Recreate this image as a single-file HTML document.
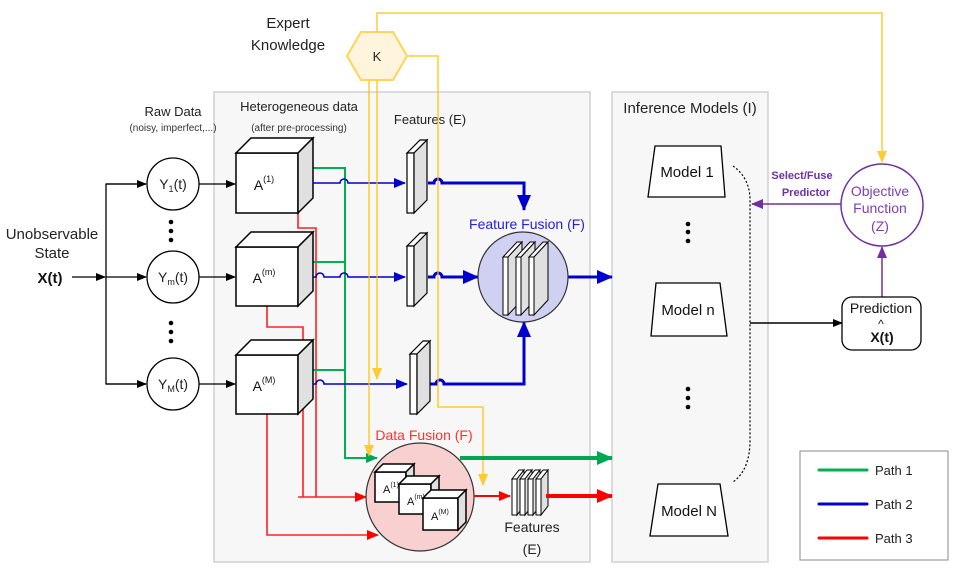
<!DOCTYPE html>
<html><head><meta charset="utf-8"><style>
body{margin:0;background:#fff;}
svg{display:block;font-family:"Liberation Sans",sans-serif;}
</style></head><body>
<svg width="957" height="569" viewBox="0 0 957 569" xmlns="http://www.w3.org/2000/svg">
<defs>
<marker id="ab" markerWidth="10" markerHeight="10" refX="9" refY="5" orient="auto" markerUnits="userSpaceOnUse"><path d="M0,1 L10,5 L0,9 Z" fill="#000"/></marker>
<marker id="abl" markerWidth="12" markerHeight="12" refX="11" refY="6" orient="auto" markerUnits="userSpaceOnUse"><path d="M0,1 L12,6 L0,11 Z" fill="#0000cc"/></marker>
<marker id="abl2" markerWidth="16" markerHeight="16" refX="15" refY="8" orient="auto" markerUnits="userSpaceOnUse"><path d="M0,1 L16,8 L0,15 Z" fill="#0000cc"/></marker>
<marker id="ag" markerWidth="16" markerHeight="16" refX="15" refY="8" orient="auto" markerUnits="userSpaceOnUse"><path d="M0,1 L16,8 L0,15 Z" fill="#00a650"/></marker>
<marker id="ag2" markerWidth="12" markerHeight="12" refX="11" refY="6" orient="auto" markerUnits="userSpaceOnUse"><path d="M0,1 L12,6 L0,11 Z" fill="#00a650"/></marker>
<marker id="ar" markerWidth="12" markerHeight="12" refX="11" refY="6" orient="auto" markerUnits="userSpaceOnUse"><path d="M0,1 L12,6 L0,11 Z" fill="#ff0000"/></marker>
<marker id="ar2" markerWidth="16" markerHeight="16" refX="15" refY="8" orient="auto" markerUnits="userSpaceOnUse"><path d="M0,1 L16,8 L0,15 Z" fill="#ff0000"/></marker>
<marker id="ay" markerWidth="12" markerHeight="12" refX="11" refY="6" orient="auto" markerUnits="userSpaceOnUse"><path d="M0,1 L12,6 L0,11 Z" fill="#ffc000"/></marker>
<marker id="ap" markerWidth="12" markerHeight="12" refX="11" refY="6" orient="auto" markerUnits="userSpaceOnUse"><path d="M0,1 L12,6 L0,11 Z" fill="#7030a0"/></marker>
</defs>

<rect x="214" y="92" width="376" height="470" fill="#f7f7f7" stroke="#d0d0d0" stroke-width="1.5"/>
<rect x="612" y="92" width="156" height="470" fill="#f7f7f7" stroke="#d0d0d0" stroke-width="1.5"/>

<text x="288" y="28" font-size="15" fill="#222" text-anchor="middle">Expert</text>
<text x="288" y="50" font-size="15" fill="#222" text-anchor="middle">Knowledge</text>
<text x="173" y="116" font-size="13" fill="#222" text-anchor="middle">Raw Data</text>
<text x="173" y="131" font-size="10" fill="#333" text-anchor="middle">(noisy, imperfect,...)</text>
<text x="299" y="111" font-size="13" fill="#222" text-anchor="middle">Heterogeneous data</text>
<text x="299" y="131" font-size="10" fill="#333" text-anchor="middle">(after pre-processing)</text>
<text x="430" y="124" font-size="13" fill="#222" text-anchor="middle">Features (E)</text>
<text x="690" y="113" font-size="15" fill="#222" text-anchor="middle">Inference Models (I)</text>

<text x="52" y="239" font-size="15" fill="#222" text-anchor="middle">Unobservable</text>
<text x="52" y="258" font-size="15" fill="#222" text-anchor="middle">State</text>
<text x="50" y="283" font-size="15" font-weight="bold" fill="#111" text-anchor="middle">X(t)</text>
<line x1="72" y1="277" x2="105" y2="277" stroke="#000" stroke-width="1.3" marker-end="url(#ab)"/>
<polyline points="146,184 106,184 106,384 146,384" fill="none" stroke="#000" stroke-width="1.3"/>
<line x1="106" y1="184" x2="146" y2="184" stroke="#000" stroke-width="1.3" marker-end="url(#ab)"/>
<line x1="106" y1="277" x2="146" y2="277" stroke="#000" stroke-width="1.3" marker-end="url(#ab)"/>
<line x1="106" y1="384" x2="146" y2="384" stroke="#000" stroke-width="1.3" marker-end="url(#ab)"/>
<g fill="#fff" stroke="#000" stroke-width="1.3">
<circle cx="173" cy="184" r="26"/><circle cx="173" cy="277" r="26"/><circle cx="173" cy="384" r="26"/>
</g>
<g font-size="14" fill="#222" text-anchor="middle">
<text x="173" y="189">Y<tspan font-size="9" dy="3">1</tspan><tspan dy="-3">(t)</tspan></text>
<text x="173" y="282">Y<tspan font-size="9" dy="3">m</tspan><tspan dy="-3">(t)</tspan></text>
<text x="173" y="389">Y<tspan font-size="9" dy="3">M</tspan><tspan dy="-3">(t)</tspan></text>
</g>
<g fill="#000"><circle cx="171" cy="222" r="2.3"/><circle cx="171" cy="231" r="2.3"/><circle cx="171" cy="240" r="2.3"/>
<circle cx="171" cy="323" r="2.3"/><circle cx="171" cy="332" r="2.3"/><circle cx="171" cy="341" r="2.3"/></g>
<line x1="199" y1="184" x2="235" y2="184" stroke="#000" stroke-width="1.3" marker-end="url(#ab)"/>
<line x1="199" y1="277" x2="235" y2="277" stroke="#000" stroke-width="1.3" marker-end="url(#ab)"/>
<line x1="199" y1="384" x2="235" y2="384" stroke="#000" stroke-width="1.3" marker-end="url(#ab)"/>

<g fill="none" stroke="#ff2020" stroke-width="1.6">
<polyline points="298,183 298,228 316,228 316,497"/>
<polyline points="267,306 267,327 303,327 303,497"/>
<line x1="298" y1="497" x2="366" y2="497" marker-end="url(#ar)"/>
<polyline points="267,414 267,535 378,535" marker-end="url(#ar)"/>
</g>
<g fill="none" stroke="#00b050" stroke-width="2">
<polyline points="313,168 345,168 345,458 377,458" marker-end="url(#ag2)"/>
<line x1="313" y1="262" x2="345" y2="262"/>
<line x1="313" y1="370" x2="345" y2="370"/>
</g>

<g stroke="#000" stroke-width="1.5">
<g><rect x="236" y="153" width="62" height="60" fill="#fff"/><polygon points="236,153 251,138 313,138 298,153" fill="#fff"/><polygon points="298,153 313,138 313,198 298,213" fill="#e0e0e0"/></g>
<g><rect x="236" y="247" width="62" height="59" fill="#fff"/><polygon points="236,247 251,232 313,232 298,247" fill="#fff"/><polygon points="298,247 313,232 313,291 298,306" fill="#e0e0e0"/></g>
<g><rect x="236" y="355" width="62" height="59" fill="#fff"/><polygon points="236,355 251,340 313,340 298,355" fill="#fff"/><polygon points="298,355 313,340 313,399 298,414" fill="#e0e0e0"/></g>
</g>
<g font-size="14" fill="#111" text-anchor="middle">
<text x="264" y="190">A<tspan font-size="9" dy="-8">(1)</tspan></text>
<text x="264" y="283">A<tspan font-size="9" dy="-8">(m)</tspan></text>
<text x="264" y="391">A<tspan font-size="9" dy="-8">(M)</tspan></text>
</g>

<g fill="none" stroke="#0000cc" stroke-width="1.6">
<path d="M313,183 H340 a4,4 0 0 1 8,0 H405" marker-end="url(#abl)"/>
<path d="M313,277 H316 a4,4 0 0 1 8,0 H340 a4,4 0 0 1 8,0 H405" marker-end="url(#abl)"/>
<path d="M313,384 H316 a4,4 0 0 1 8,0 H407" marker-end="url(#abl)"/>
</g>
<g fill="none" stroke="#0000cc" stroke-width="3">
<path d="M428,183 H434 a4,4 0 0 1 8,0 H524 V210" marker-end="url(#abl2)"/>
<path d="M428,277 H434 a4,4 0 0 1 8,0 H478" marker-end="url(#abl2)"/>
<path d="M430,384 H436 a4,4 0 0 1 8,0 H524 V322" marker-end="url(#abl2)"/>
<line x1="568" y1="277" x2="612" y2="277" marker-end="url(#abl2)"/>
</g>

<g stroke="#000" stroke-width="1.2">
<g><polygon points="407,153 420,140 427,140 414,153" fill="#fff"/><rect x="407" y="153" width="7" height="60" fill="#fff"/><polygon points="414,153 427,140 427,200 414,213" fill="#e0e0e0"/></g>
<g><polygon points="407,246 420,233 427,233 414,246" fill="#fff"/><rect x="407" y="246" width="7" height="60" fill="#fff"/><polygon points="414,246 427,233 427,293 414,306" fill="#e0e0e0"/></g>
<g><polygon points="410,354 423,341 430,341 417,354" fill="#fff"/><rect x="410" y="354" width="7" height="60" fill="#fff"/><polygon points="417,354 430,341 430,401 417,414" fill="#e0e0e0"/></g>
</g>

<text x="527" y="229" font-size="14" fill="#2222dd" text-anchor="middle">Feature Fusion (F)</text>
<circle cx="523" cy="277" r="45" fill="#d0d0f2" stroke="#333" stroke-width="1.2"/>
<g stroke="#000" stroke-width="1">
<g><polygon points="503,257 517,242 522,242 508,257" fill="#fff"/><rect x="503" y="257" width="5" height="58" fill="#fff"/><polygon points="508,257 522,242 522,300 508,315" fill="#e0e0e0"/></g>
<g><polygon points="516,257 530,242 535,242 521,257" fill="#fff"/><rect x="516" y="257" width="5" height="58" fill="#fff"/><polygon points="521,257 535,242 535,300 521,315" fill="#e0e0e0"/></g>
<g><polygon points="529,257 543,242 548,242 534,257" fill="#fff"/><rect x="529" y="257" width="5" height="58" fill="#fff"/><polygon points="534,257 548,242 548,300 534,315" fill="#e0e0e0"/></g>
</g>

<g fill="none" stroke="#ffc000" stroke-width="1.5" opacity="0.8">
<polyline points="377,31 377,13 882,13 882,162" marker-end="url(#ay)"/>
<polyline points="369,80 369,456" marker-end="url(#ay)"/>
<polyline points="377,80 377,379" marker-end="url(#ay)"/>
<polyline points="407,56 438,56 438,407 483,407 483,485" marker-end="url(#ay)"/>
</g>
<polygon points="347,56 361,32 393,32 407,56 393,80 361,80" fill="#fff5dc" stroke="#ffd45a" stroke-width="2"/>
<text x="377" y="61" font-size="13" fill="#222" text-anchor="middle">K</text>

<text x="424" y="440" font-size="14" fill="#ff3030" text-anchor="middle">Data Fusion (F)</text>
<line x1="460" y1="458" x2="612" y2="458" stroke="#00a650" stroke-width="4" marker-end="url(#ag)"/>
<circle cx="420" cy="497" r="54" fill="#f8d0d0" stroke="#333" stroke-width="1.2"/>
<line x1="474" y1="496" x2="510" y2="496" stroke="#ff0000" stroke-width="2" marker-end="url(#ar)"/>
<g stroke="#000" stroke-width="1.5">
<g><rect x="375" y="472" width="31" height="30" fill="#fff"/><polygon points="375,472 383,464 414,464 406,472" fill="#fff"/><polygon points="406,472 414,464 414,494 406,502" fill="#e0e0e0"/></g>
<g><rect x="399" y="484" width="32" height="30" fill="#fff"/><polygon points="399,484 407,476 439,476 431,484" fill="#fff"/><polygon points="431,484 439,476 439,506 431,514" fill="#e0e0e0"/></g>
<g><rect x="423" y="498" width="35" height="32" fill="#fff"/><polygon points="423,498 431,490 466,490 458,498" fill="#fff"/><polygon points="458,498 466,490 466,522 458,530" fill="#e0e0e0"/></g>
</g>
<g font-size="11" fill="#111">
<text x="383" y="493">A<tspan font-size="7" dy="-6">(1)</tspan></text>
<text x="407" y="505">A<tspan font-size="7" dy="-6">(m)</tspan></text>
<text x="431" y="520">A<tspan font-size="7" dy="-6">(M)</tspan></text>
</g>
<g stroke="#000" stroke-width="1">
<g><polygon points="512,479 519,470 524,470 517,479" fill="#fff"/><rect x="512" y="479" width="5" height="36" fill="#fff"/><polygon points="517,479 524,470 524,506 517,515" fill="#e0e0e0"/></g>
<g><polygon points="520,479 527,470 532,470 525,479" fill="#fff"/><rect x="520" y="479" width="5" height="36" fill="#fff"/><polygon points="525,479 532,470 532,506 525,515" fill="#e0e0e0"/></g>
<g><polygon points="528,479 535,470 540,470 533,479" fill="#fff"/><rect x="528" y="479" width="5" height="36" fill="#fff"/><polygon points="533,479 540,470 540,506 533,515" fill="#e0e0e0"/></g>
<g><polygon points="536,479 543,470 548,470 541,479" fill="#fff"/><rect x="536" y="479" width="5" height="36" fill="#fff"/><polygon points="541,479 548,470 548,506 541,515" fill="#e0e0e0"/></g>
</g>
<line x1="546" y1="496" x2="612" y2="496" stroke="#ff0000" stroke-width="4" marker-end="url(#ar2)"/>
<text x="532" y="532" font-size="14" fill="#222" text-anchor="middle">Features</text>
<text x="532" y="554" font-size="14" fill="#222" text-anchor="middle">(E)</text>

<g fill="#fff" stroke="#000" stroke-width="1.3">
<polygon points="655,146 721,146 725,197 648,197"/>
<polygon points="656,283 720,283 727,336 651,336"/>
<polygon points="658,484 720,484 728,536 650,536"/>
</g>
<g font-size="15" fill="#111" text-anchor="middle">
<text x="687" y="177">Model 1</text>
<text x="688" y="315">Model n</text>
<text x="689" y="516">Model N</text>
</g>
<g fill="#000"><circle cx="688" cy="224" r="2.3"/><circle cx="688" cy="232" r="2.3"/><circle cx="688" cy="241" r="2.3"/>
<circle cx="688" cy="389" r="2.3"/><circle cx="688" cy="398" r="2.3"/><circle cx="688" cy="407" r="2.3"/></g>
<path d="M733,166 Q750,178 750,200 V440 Q750,470 733,482" fill="none" stroke="#000" stroke-width="1.2" stroke-dasharray="2,2"/>
<line x1="750" y1="323" x2="842" y2="323" stroke="#000" stroke-width="1.5" marker-end="url(#ab)"/>

<line x1="841" y1="204" x2="752" y2="204" stroke="#7030a0" stroke-width="1.5" marker-end="url(#ap)"/>
<text x="802" y="179" font-size="11" font-weight="bold" fill="#7030a0" text-anchor="middle">Select/Fuse</text>
<text x="806" y="196" font-size="11" font-weight="bold" fill="#7030a0" text-anchor="middle">Predictor</text>
<circle cx="882" cy="205" r="41" fill="#fff" stroke="#7030a0" stroke-width="1.5"/>
<g font-size="14" fill="#8040b0" text-anchor="middle">
<text x="880" y="196">Objective</text><text x="880" y="213">Function</text><text x="880" y="231">(Z)</text>
</g>
<line x1="882" y1="297" x2="882" y2="247" stroke="#7030a0" stroke-width="1.5" marker-end="url(#ap)"/>
<rect x="842" y="297" width="79" height="53" rx="10" fill="#fff" stroke="#000" stroke-width="1.3"/>
<text x="881" y="313" font-size="14" fill="#111" text-anchor="middle">Prediction</text>
<text x="881" y="328" font-size="12" fill="#111" text-anchor="middle">^</text>
<text x="882" y="342" font-size="14" font-weight="bold" fill="#111" text-anchor="middle">X(t)</text>

<rect x="800" y="451" width="148" height="109" fill="#fff" stroke="#888" stroke-width="1"/>
<g stroke-width="3" stroke-linecap="round">
<line x1="819" y1="470" x2="867" y2="470" stroke="#00b050"/>
<line x1="819" y1="504" x2="867" y2="504" stroke="#0000cc"/>
<line x1="819" y1="538" x2="867" y2="538" stroke="#ff0000"/>
</g>
<g font-size="13" fill="#222">
<text x="875" y="475">Path 1</text><text x="875" y="509">Path 2</text><text x="875" y="543">Path 3</text>
</g>
</svg>
</body></html>
